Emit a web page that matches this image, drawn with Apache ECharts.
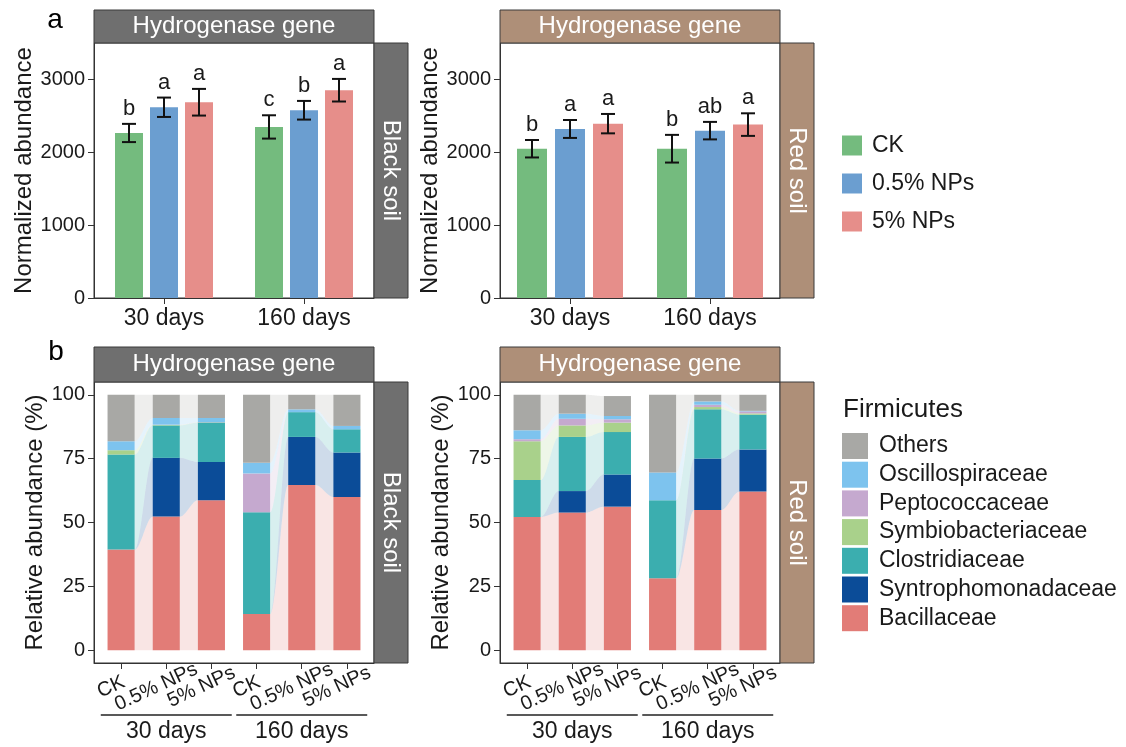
<!DOCTYPE html>
<html>
<head>
<meta charset="utf-8">
<script src="https://cdn.jsdelivr.net/npm/echarts@6/dist/echarts.min.js"></script>
<style>
  html, body { margin: 0; padding: 0; background: #fff; }
  #chart { width: 1126px; height: 747px; }
</style>
</head>
<body>
<div id="chart"></div>
<script>
// ---------- data ----------
const days = ['30 days', '160 days'];
const treatments = ['CK', '0.5% NPs', '5% NPs'];

// Normalized abundance of hydrogenase genes (mean, error half-width, significance letter)
const blackCK = [2265, 2348];
const blackLow = [2618, 2577];
const blackHigh = [2687, 2852];
const blackCKErr = [125, 160];
const blackLowErr = [133, 128];
const blackHighErr = [183, 155];
const blackCKSig = ['b', 'c'];
const blackLowSig = ['a', 'b'];
const blackHighSig = ['a', 'a'];

const redCK = [2049, 2049];
const redLow = [2320, 2297];
const redHigh = [2393, 2380];
const redCKErr = [120, 190];
const redLowErr = [123, 120];
const redHighErr = [133, 155];
const redCKSig = ['b', 'b'];
const redLowSig = ['a', 'ab'];
const redHighSig = ['a', 'a'];

// Relative abundance (%) of Firmicutes families; samples: CK, 0.5% NPs, 5% NPs at 30 d, then at 160 d
const sampleLabels = ['CK', '0.5% NPs', '5% NPs', 'CK', '0.5% NPs', '5% NPs'];
const families = ['Bacillaceae', 'Syntrophomonadaceae', 'Clostridiaceae', 'Symbiobacteriaceae',
                  'Peptococcaceae', 'Oscillospiraceae', 'Others'];

const blackBacillaceae        = [39.4, 52.3, 58.7, 14.2, 64.7, 60.0];
const blackSyntrophomonadaceae = [0.0, 23.0, 15.0, 0.0, 18.8, 17.4];
const blackClostridiaceae     = [37.2, 12.7, 15.4, 39.8, 9.7, 9.1];
const blackSymbiobacteriaceae = [1.7, 0.2, 0.1, 0.0, 0.0, 0.0];
const blackPeptococcaceae     = [0.0, 0.1, 0.1, 15.2, 0.0, 0.0];
const blackOscillospiraceae   = [3.5, 2.6, 1.6, 4.2, 1.1, 1.3];
const blackOthers             = [18.2, 9.1, 9.1, 26.6, 5.7, 12.2];

const redBacillaceae        = [52.2, 53.9, 56.2, 28.2, 54.9, 62.1];
const redSyntrophomonadaceae = [0.0, 8.4, 12.6, 0.0, 20.2, 16.5];
const redClostridiaceae     = [14.4, 21.2, 16.6, 30.5, 19.2, 13.6];
const redSymbiobacteriaceae = [15.2, 4.5, 3.7, 0.0, 0.9, 0.5];
const redPeptococcaceae     = [0.8, 2.6, 1.3, 0.0, 0.9, 0.8];
const redOscillospiraceae   = [3.5, 2.0, 1.3, 10.9, 1.3, 0.2];
const redOthers             = [13.9, 7.4, 7.8, 30.4, 2.6, 6.3];

// ---------- styling ----------
const FONT = '"Liberation Sans", Arial, Helvetica, sans-serif';
const TEXT = '#1a1a1a';
const treatColors = ['#74BB7E', '#6B9ED0', '#E68E8A'];
const familyColors = {
  Bacillaceae: '#E27C77',
  Syntrophomonadaceae: '#0B4C98',
  Clostridiaceae: '#3BAEAF',
  Symbiobacteriaceae: '#A9D18B',
  Peptococcaceae: '#C5A9CF',
  Oscillospiraceae: '#7DC3EE',
  Others: '#A8A8A5'
};
const stripGray = '#6F6F6F';
const stripBrown = '#AE8F78';

const grids = [
  { left: 94, top: 43, width: 280, height: 255 },
  { left: 500, top: 43, width: 280, height: 255 },
  { left: 94, top: 382, width: 280, height: 281 },
  { left: 500, top: 382, width: 280, height: 281 }
];

const chart = echarts.init(document.getElementById('chart'), null, { renderer: 'canvas' });

// ---------- axes ----------
const axisLine = { show: true, onZero: false, lineStyle: { color: '#333', width: 1 } };
const axisTick = { show: true, length: 6, lineStyle: { color: '#333', width: 1 } };

const xAxes = [0, 1].map(g => ({
  type: 'category', gridIndex: g, data: days,
  axisLine: axisLine,
  axisTick: Object.assign({ alignWithLabel: true }, axisTick),
  axisLabel: { fontSize: 23, color: TEXT, fontFamily: FONT, margin: 9 },
  splitLine: { show: false }
})).concat([2, 3].map(g => ({
  type: 'value', gridIndex: g, min: 0.4, max: 6.6,
  axisLine: axisLine,
  axisTick: Object.assign({ customValues: [1, 2, 3, 4, 5, 6] }, axisTick),
  // sample names are drawn by the 'sample labels' series below
  axisLabel: { show: false },
  splitLine: { show: false }
})));

const yName = (name, gap) => ({
  name: name, nameLocation: 'middle', nameGap: gap,
  nameTextStyle: { fontSize: 24, color: TEXT, fontFamily: FONT }
});

const yAxes = [0, 1].map(g => Object.assign({
  type: 'value', gridIndex: g, min: 0, max: 3500,
  axisLine: axisLine,
  axisTick: Object.assign({ customValues: [0, 1000, 2000, 3000] }, axisTick),
  axisLabel: { customValues: [0, 1000, 2000, 3000], fontSize: 20, color: TEXT, fontFamily: FONT,
               margin: 9, formatter: v => String(v) },
  splitLine: { show: false }
}, yName('Normalized abundance', g === 0 ? 57 : 53))).concat([2, 3].map(g => Object.assign({
  type: 'value', gridIndex: g, min: -5, max: 105,
  axisLine: axisLine,
  axisTick: Object.assign({ customValues: [0, 25, 50, 75, 100] }, axisTick),
  axisLabel: { customValues: [0, 25, 50, 75, 100], fontSize: 20, color: TEXT, fontFamily: FONT,
               margin: 9, formatter: v => String(v) },
  splitLine: { show: false }
}, yName('Relative abundance (%)', g === 2 ? 45 : 46))));

// ---------- top panels: bars with error bars ----------
const topSets = [
  { means: [blackCK, blackLow, blackHigh], errs: [blackCKErr, blackLowErr, blackHighErr],
    sig: [blackCKSig, blackLowSig, blackHighSig], barWidth: 28, gap: 7 },
  { means: [redCK, redLow, redHigh], errs: [redCKErr, redLowErr, redHighErr],
    sig: [redCKSig, redLowSig, redHighSig], barWidth: 30, gap: 8 }
];

const series = [];
topSets.forEach((set, g) => {
  treatments.forEach((t, k) => {
    series.push({
      type: 'bar', name: t, xAxisIndex: g, yAxisIndex: g,
      data: set.means[k], barWidth: set.barWidth, barGap: (set.gap / set.barWidth * 100) + '%',
      itemStyle: { color: treatColors[k] }, z: 2, silent: true
    });
  });
  treatments.forEach((t, k) => {
    const letters = set.sig[k];
    series.push({
      type: 'custom', name: t + ' error', xAxisIndex: g, yAxisIndex: g, z: 3, silent: true,
      data: set.means[k].map((m, i) => [i, m, set.errs[k][i]]),
      renderItem: (params, api) => {
        const i = api.value(0), m = api.value(1), e = api.value(2);
        const dx = (k - 1) * (set.barWidth + set.gap);
        const top = api.coord([i, m + e]);
        const bot = api.coord([i, m - e]);
        const x = top[0] + dx, cap = 7;
        const line = { stroke: '#111', lineWidth: 2 };
        return {
          type: 'group', children: [
            { type: 'line', shape: { x1: x, y1: top[1], x2: x, y2: bot[1] }, style: line },
            { type: 'line', shape: { x1: x - cap, y1: top[1], x2: x + cap, y2: top[1] }, style: line },
            { type: 'line', shape: { x1: x - cap, y1: bot[1], x2: x + cap, y2: bot[1] }, style: line },
            { type: 'text', x: x, y: top[1] - 4,
              style: { text: letters[params.dataIndex], fill: TEXT, font: '22px ' + FONT,
                       align: 'center', verticalAlign: 'bottom' } }
          ]
        };
      }
    });
  });
});

// ---------- bottom panels: stacked composition with flows ----------
const bottomSets = [
  [blackBacillaceae, blackSyntrophomonadaceae, blackClostridiaceae, blackSymbiobacteriaceae,
   blackPeptococcaceae, blackOscillospiraceae, blackOthers],
  [redBacillaceae, redSyntrophomonadaceae, redClostridiaceae, redSymbiobacteriaceae,
   redPeptococcaceae, redOscillospiraceae, redOthers]
];
const HALF = 0.3;            // half bar width in axis units
const flowPairs = [[0, 1], [1, 2], [3, 4], [4, 5]];
const smooth = u => u * u * (3 - 2 * u);

bottomSets.forEach((layers, b) => {
  const g = b + 2;
  // cumulative bounds for every family and sample
  const lows = [], highs = [];
  let acc = sampleLabels.map(() => 0);
  layers.forEach(vals => {
    lows.push(acc.slice());
    acc = acc.map((a, i) => a + vals[i]);
    highs.push(acc.slice());
  });

  // ribbons between neighbouring samples of the same sampling date
  const flowData = [];
  families.forEach((f, s) => {
    flowPairs.forEach(([p, q]) => {
      if (layers[s][p] === 0 && layers[s][q] === 0) return;
      flowData.push([p + 1, lows[s][p], highs[s][p], q + 1, lows[s][q], highs[s][q], s]);
    });
  });
  series.push({
    type: 'custom', name: 'flows', xAxisIndex: g, yAxisIndex: g, z: 1, silent: true,
    data: flowData,
    renderItem: (params, api) => {
      const x0 = api.value(0) + HALF, l0 = api.value(1), h0 = api.value(2);
      const x1 = api.value(3) - HALF, l1 = api.value(4), h1 = api.value(5);
      const fam = families[api.value(6)];
      const N = 24, upper = [], lower = [];
      for (let j = 0; j <= N; j++) {
        const u = j / N, w = smooth(u), x = x0 + (x1 - x0) * u;
        upper.push(api.coord([x, h0 + (h1 - h0) * w]));
        lower.push(api.coord([x, l0 + (l1 - l0) * w]));
      }
      return {
        type: 'polygon', shape: { points: upper.concat(lower.reverse()) },
        style: { fill: familyColors[fam], opacity: 0.2 }
      };
    }
  });

  families.forEach((f, s) => {
    series.push({
      type: 'custom', name: f, xAxisIndex: g, yAxisIndex: g, z: 2, silent: true,
      itemStyle: { color: familyColors[f] },
      data: sampleLabels.map((_, i) => [i + 1, lows[s][i], highs[s][i]]),
      renderItem: (params, api) => {
        const x = api.value(0), lo = api.value(1), hi = api.value(2);
        if (hi - lo <= 0) return null;
        const p1 = api.coord([x - HALF, hi]);
        const p2 = api.coord([x + HALF, lo]);
        return {
          type: 'rect', shape: { x: p1[0], y: p1[1], width: p2[0] - p1[0], height: p2[1] - p1[1] },
          style: { fill: api.visual('color') }
        };
      }
    });
  });

  // tilted sample names under each tick
  series.push({
    type: 'custom', name: 'sample labels', xAxisIndex: g, yAxisIndex: g, clip: false, silent: true,
    data: sampleLabels.map((_, i) => [i + 1]),
    renderItem: (params, api) => {
      const p = api.coord([api.value(0), -5]);
      return {
        type: 'text', x: p[0] - 10, y: p[1] + 24, rotation: 25 * Math.PI / 180,
        style: { text: sampleLabels[params.dataIndex], fill: TEXT, font: '20px ' + FONT,
                 align: 'center', verticalAlign: 'middle' }
      };
    }
  });

  // sampling-date brackets under the sample labels
  const groups = [[0.55, 3.45], [3.55, 6.45]];
  series.push({
    type: 'custom', name: 'dates', xAxisIndex: g, yAxisIndex: g, clip: false, silent: true,
    data: groups.map((s, i) => [s[0], s[1], i]),
    renderItem: (params, api) => {
      const a = api.coord([api.value(0), -5]);
      const c = api.coord([api.value(1), -5]);
      const yLine = a[1] + 52;
      return {
        type: 'group', children: [
          { type: 'line', shape: { x1: a[0], y1: yLine, x2: c[0], y2: yLine },
            style: { stroke: '#222', lineWidth: 1.5 } },
          { type: 'text', x: (a[0] + c[0]) / 2, y: yLine + 17,
            style: { text: days[api.value(2)], fill: TEXT, font: '23px ' + FONT,
                     align: 'center', verticalAlign: 'middle' } }
        ]
      };
    }
  });
});

// ---------- facet strips and panel letters ----------
const graphics = [];
const strip = (x, y, w, h, fill, text, vertical) => {
  graphics.push({
    type: 'rect', shape: { x: x, y: y, width: w, height: h },
    style: { fill: fill, stroke: '#3a3a3a', lineWidth: 1 }, z: 10
  });
  graphics.push({
    type: 'text', x: x + w / 2, y: y + h / 2, rotation: vertical ? -Math.PI / 2 : 0,
    style: { text: text, fill: '#fff', font: '24px ' + FONT, align: 'center', verticalAlign: 'middle' },
    z: 11
  });
};
const soils = [['Black soil', stripGray], ['Red soil', stripBrown]];
grids.forEach((gr, g) => {
  const [soil, col] = soils[g % 2];
  const sh = g < 2 ? 33 : 35;
  strip(gr.left, gr.top - sh, gr.width, sh, col, 'Hydrogenase gene', false);
  strip(gr.left + gr.width, gr.top, 34, gr.height, col, soil, true);
});
graphics.push({ type: 'text', x: 55, y: 20, style: { text: 'a', fill: '#000', font: '28px ' + FONT, align: 'center', verticalAlign: 'middle' } });
graphics.push({ type: 'text', x: 56, y: 352, style: { text: 'b', fill: '#000', font: '28px ' + FONT, align: 'center', verticalAlign: 'middle' } });
graphics.push({ type: 'text', x: 843, y: 410, style: { text: 'Firmicutes', fill: TEXT, font: '26px ' + FONT, align: 'left', verticalAlign: 'middle' } });

chart.setOption({
  animation: false,
  backgroundColor: '#fff',
  grid: grids.map(gr => Object.assign({
    show: true, borderColor: '#333', borderWidth: 1, backgroundColor: '#fff', containLabel: false
  }, gr)),
  xAxis: xAxes,
  yAxis: yAxes,
  legend: [
    {
      data: treatments, orient: 'vertical', left: 842, top: 134, padding: 0,
      icon: 'rect', itemWidth: 20, itemHeight: 20, itemGap: 15,
      textStyle: { fontSize: 23, lineHeight: 20, color: TEXT, fontFamily: FONT, padding: [0, 0, 0, 5] },
      selectedMode: false
    },
    {
      data: families.slice().reverse(), orient: 'vertical', left: 842, top: 433, padding: 0,
      icon: 'rect', itemWidth: 26, itemHeight: 26, itemGap: 2.7,
      textStyle: { fontSize: 23, lineHeight: 26, color: TEXT, fontFamily: FONT, padding: [0, 0, 0, 6] },
      selectedMode: false
    }
  ],
  graphic: graphics,
  series: series
});
</script>
</body>
</html>
